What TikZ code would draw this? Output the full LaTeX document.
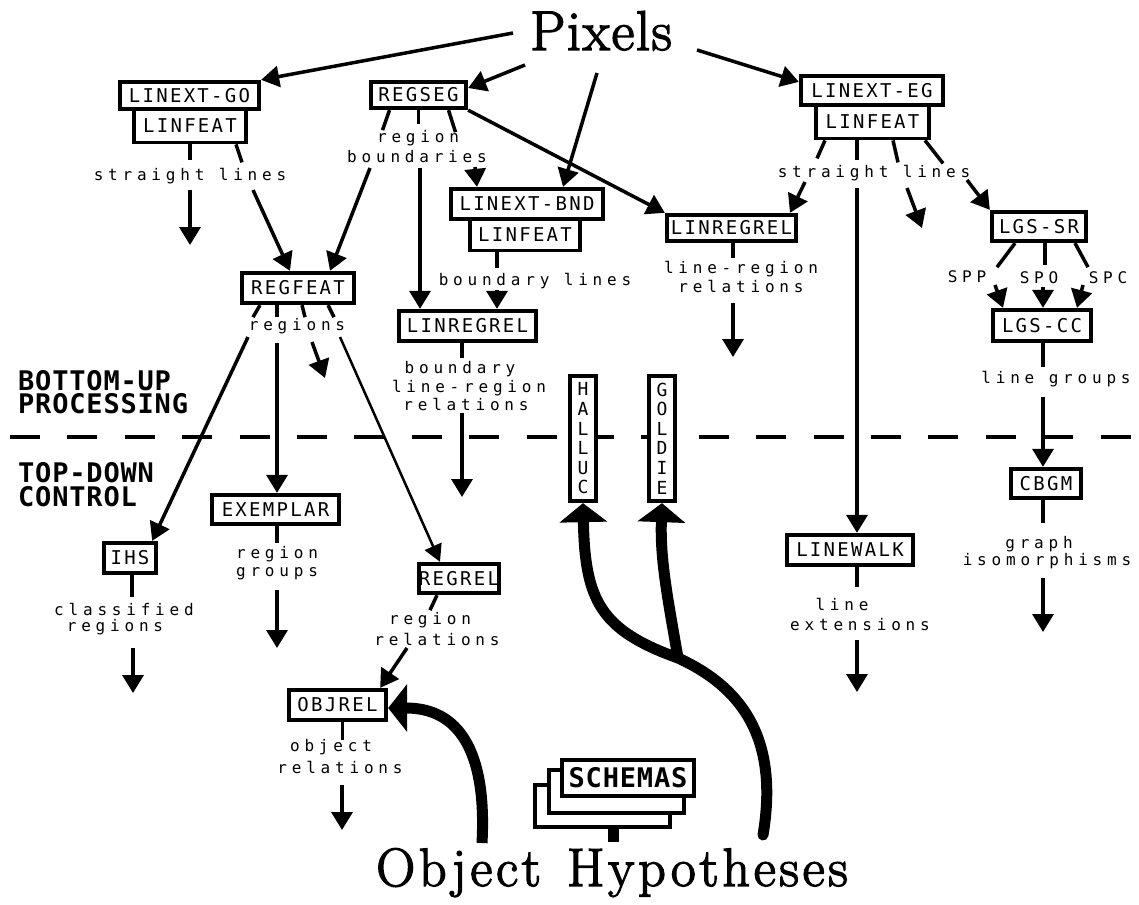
\documentclass[tikz,border=0pt]{standalone}
\usepackage{fontspec}
\usetikzlibrary{arrows.meta}
\newfontfamily\boxfont[LetterSpace=12]{DejaVu Sans Mono}
\newfontfamily\lblfont[LetterSpace=30]{DejaVu Sans Mono}
\newfontfamily\sidefont[LetterSpace=3,UprightFont={* Bold}]{DejaVu Sans Mono}
\newfontfamily\titlefont[FakeBold=2.5]{Latin Modern Roman}
\begin{document}
\begin{tikzpicture}[x=1pt,y=-1pt,
  box/.style={draw, line width=3.8pt, fill=white, inner sep=0pt,
    font=\boxfont\fontsize{19}{19}\selectfont, text height=13.9pt, text depth=0pt},
  vbox/.style={draw, line width=3.8pt, fill=white, inner sep=0pt, align=center,
    font=\boxfont\fontsize{18}{19.6}\selectfont},
  schema/.style={draw, line width=3.8pt, fill=white, inner sep=0pt},
  lbl/.style={inner sep=0pt, anchor=base, font=\lblfont\fontsize{16}{16}\selectfont},
  side/.style={inner sep=0pt, anchor=north west, align=left},
  title/.style={inner sep=0pt, anchor=base},
  stub/.style={line width=3.5pt},
  arr/.style={line width=3.5pt, -{Triangle[width=21pt,length=18pt]}},
  thinarr/.style={line width=2.5pt, -{Triangle[width=18pt,length=17pt]}},
  fat/.style={line width=11pt, -{Triangle[width=47pt,length=19pt]}},
  fatline/.style={line width=11pt, line cap=round},
  divider/.style={line width=4pt, dash pattern=on 30pt off 27.4pt}
]
\fill[white] (0,0) rectangle (1139,904);
\useasboundingbox (0,0) rectangle (1139,904);

% boundary between the two processing modes
\coordinate (dvL) at (10,437);
\coordinate (dvR) at (1139,437);
\draw[divider] (dvL) -- (dvR);

% side headings
\node[side, font=\sidefont\fontsize{27}{23}\selectfont] (bu) at (18,370.5) {BOTTOM-UP\\PROCESSING};
\node[side, font=\sidefont\fontsize{27}{24}\selectfont] (td) at (18,462.5) {TOP-DOWN\\CONTROL};

% end points
\node[title, font=\titlefont\fontsize{56}{56}\selectfont\addfontfeature{LetterSpace=3}] (pix) at (601,50) {Pixels};
\node[title, font=\titlefont\fontsize{54}{54}\selectfont\addfontfeature{LetterSpace=7}] (oh) at (612,886) {Object\hspace{6pt} Hypotheses};

% knowledge source boxes
\node[box, minimum width=139.5, minimum height=27.5] (gox) at (189.5,95.5) {LINEXT-GO};
\node[box, minimum width=112, minimum height=33] (gof) at (190,126) {LINFEAT};
\node[box, minimum width=95.5, minimum height=26.5] (reg) at (418.5,95) {REGSEG};
\node[box, minimum width=142.5, minimum height=29.5] (egx) at (872,90.5) {LINEXT-EG};
\node[box, minimum width=113.5, minimum height=33] (egf) at (872.5,122) {LINFEAT};
\node[box, minimum width=152.5, minimum height=30.5] (bndx) at (527,204) {LINEXT-BND};
\node[box, minimum width=110.5, minimum height=31] (bndf) at (525,235) {LINFEAT};
\node[box, minimum width=129.5, minimum height=26.5] (lrr) at (731.5,228) {LINREGREL};
\node[box, minimum width=94.5, minimum height=29.5] (sr) at (1039,226.5) {LGS-SR};
\node[box, minimum width=112.5, minimum height=30.5] (rf) at (298,288) {REGFEAT};
\node[box, minimum width=137.5, minimum height=30.5] (lrm) at (467.5,326) {LINREGREL};
\node[box, minimum width=98.5, minimum height=31.5] (cc) at (1042,325.5) {LGS-CC};
\node[vbox, minimum width=26.5, minimum height=125.5] (hal) at (583,438.5) {H\\A\\L\\L\\U\\C};
\node[vbox, minimum width=26.5, minimum height=125.5] (gol) at (662,438.5) {G\\O\\L\\D\\I\\E};
\node[box, minimum width=127.5, minimum height=29.5] (exm) at (275.5,509.5) {EXEMPLAR};
\node[box, minimum width=52.5, minimum height=30.5] (ihs) at (130,558) {IHS};
\node[box, minimum width=74.5, minimum height=29.5] (rr) at (459,578.5) {REGREL};
\node[box, minimum width=97.5, minimum height=30.5] (ob) at (337.5,705) {OBJREL};
\node[box, minimum width=126.5, minimum height=30.5] (lw) at (850,550) {LINEWALK};
\node[box, minimum width=70.5, minimum height=29.5] (cb) at (1046,483.5) {CBGM};

% stacked schema cards
\node[schema, minimum width=135.5, minimum height=42.5] (sch3) at (602.5,806) {};
\node[schema, minimum width=135.5, minimum height=43.5] (sch2) at (616.5,791.5) {};
\node[schema, minimum width=132.5, minimum height=36.5, font=\sidefont\fontsize{27}{27}\selectfont] (sch1) at (628,778) {SCHEMAS};
\draw[line width=11pt] ([xshift=10.5]sch3.south) -- ++(0,13);

% data labels
\node[lbl] (t1) at (190,180) {straight lines};
\node[lbl] (t2a) at (418,143) {region};
\node[lbl] (t2b) at (417,163) {boundaries};
\node[lbl] (t3) at (874,177) {straight lines};
\node[lbl] (t4) at (535,285) {boundary lines};
\node[lbl] (t5a) at (741,273) {line-region};
\node[lbl] (t5b) at (741,292) {relations};
\node[lbl] (t6) at (297,330) {regions};
\node[lbl] (t7a) at (460,373) {boundary};
\node[lbl] (t7b) at (469,392) {line-region};
\node[lbl] (t7c) at (466,410) {relations};
\node[lbl] (t8) at (1056,383) {line groups};
\node[lbl] (t9a) at (277,558) {region};
\node[lbl] (t9b) at (277,576) {groups};
\node[lbl] (t10a) at (124,615) {classified};
\node[lbl] (t10b) at (115,631) {regions};
\node[lbl] (t11a) at (430,624) {region};
\node[lbl] (t11b) at (437,645) {relations};
\node[lbl] (t12a) at (331,751) {object};
\node[lbl] (t12b) at (340,773) {relations};
\node[lbl] (t13a) at (842,610) {line};
\node[lbl] (t13b) at (860,630) {extensions};
\node[lbl] (t14a) at (1039,548) {graph};
\node[lbl] (t14b) at (1047,565) {isomorphisms};
\node[lbl] (spp) at (967,282) {SPP};
\node[lbl] (spo) at (1039,283) {SPO};
\node[lbl] (spc) at (1108,283) {SPC};

% free ends of connectors
\coordinate (p1) at (513,33);
\coordinate (p2) at (525,65);
\coordinate (p3) at (597,73);
\coordinate (p4) at (697,50);
\coordinate (g1) at (190,190);  \coordinate (g2) at (190,245);
\coordinate (g3) at (253,190);
\coordinate (r1) at (370,168);
\coordinate (r2) at (420,168);
\coordinate (r3) at (475,167);
\coordinate (b1) at (497,290);
\coordinate (l1) at (733,303);  \coordinate (l2) at (733,357);
\coordinate (e1) at (805,182);
\coordinate (e2) at (857,188);
\coordinate (e3) at (907,188);  \coordinate (e4) at (922,228);
\coordinate (e5) at (967,180);
\coordinate (s1) at (995,285);
\coordinate (s2) at (1043,287);
\coordinate (s3) at (1083,285);
\coordinate (c1) at (1043,397);
\coordinate (c2) at (1043,578); \coordinate (c3) at (1043,632);
\coordinate (w1) at (857,640);  \coordinate (w2) at (857,692);
\coordinate (f1) at (248,337);
\coordinate (f2) at (277,343);
\coordinate (f3) at (312,342);  \coordinate (f4) at (325,378);
\coordinate (f5) at (340,337);
\coordinate (m1) at (462,413);  \coordinate (m2) at (462,497);
\coordinate (x1) at (277,590);  \coordinate (x2) at (277,648);
\coordinate (i1) at (133,648);  \coordinate (i2) at (133,693);
\coordinate (q1) at (407,648);
\coordinate (o1) at (342,785);  \coordinate (o2) at (342,830);
\coordinate (h1) at (482,843);
\coordinate (h2) at (763,835);
\coordinate (hj) at (678,658);

% from the pixels
\draw[arr] (p1) -- (gox.north east);
\draw[arr] (p2) -- ([yshift=7]reg.east);
\draw[arr] (p3) -- ([xshift=36]bndx.north);
\draw[arr] (p4) -- ([yshift=-8]egx.north west);

% LINEXT-GO / LINFEAT
\draw[stub] (gof.south) -- ++(0,16);
\draw[stub] ([xshift=46]gof.south) -- ++(6,18);
\draw[arr] (g1) -- (g2);
\draw[arr] (g3) -- ([xshift=-8]rf.north);

% REGSEG
\draw[arr] (reg.south east) -- (lrr.north west);
\draw[stub] ([xshift=-29]reg.south) -- ++(-7,20);
\draw[stub] (reg.south) -- ++(0,14);
\draw[stub] ([xshift=30]reg.south) -- ++(7,22);
\draw[arr] (r1) -- ([xshift=32]rf.north);
\draw[arr] (r2) -- ([xshift=-47.5]lrm.north);
\draw[arr] (r3) -- ([xshift=-50]bndx.north);

% LINEXT-BND / LINFEAT
\draw[stub] ([xshift=-28]bndf.south) -- ++(0,16);
\draw[arr] (b1) -- ([xshift=29.5]lrm.north);

% LINREGREL (right)
\draw[stub] ([xshift=1.5]lrr.south) -- ++(0,15);
\draw[arr] (l1) -- (l2);

% LINEXT-EG / LINFEAT
\draw[stub] ([xshift=-47.5]egf.south) -- ++(-8,18);
\draw[stub] ([xshift=-15.5]egf.south) -- ++(0,20);
\draw[stub] ([xshift=20.5]egf.south) -- ++(5,22);
\draw[stub] ([xshift=52.5]egf.south) -- ++(18,23);
\draw[arr] (e1) -- ([xshift=58.5]lrr.north);
\draw[arr] (e2) -- ([xshift=7]lw.north);
\draw[arr] (e3) -- (e4);
\draw[arr] (e5) -- (sr.north west);

% LGS-SR
\draw[stub] ([xshift=-24]sr.south) -- ++(-18,24);
\draw[stub] ([xshift=6]sr.south) -- ++(0,22);
\draw[stub] ([xshift=36]sr.south) -- ++(13,24);
\draw[arr] (s1) -- ([xshift=-39]cc.north);
\draw[arr] (s2) -- ([xshift=1]cc.north);
\draw[arr] (s3) -- ([xshift=35]cc.north);

% LGS-CC and CBGM
\draw[stub] ([xshift=1]cc.south) -- ++(0,24);
\draw[arr] (c1) -- ([xshift=-3]cb.north);
\draw[stub] ([xshift=-3]cb.south) -- ++(0,23);
\draw[arr] (c2) -- (c3);

% LINEWALK
\draw[stub] ([xshift=7]lw.south) -- ++(0,20);
\draw[arr] (w1) -- (w2);

% REGFEAT
\draw[stub] ([xshift=-38]rf.south) -- ++(-7,12);
\draw[stub] ([xshift=-21]rf.south) -- ++(0,12);
\draw[stub] ([xshift=4]rf.south) -- ++(3,12);
\draw[stub] ([xshift=30]rf.south) -- ++(6,12);
\draw[arr] (f1) -- ([xshift=-6]ihs.north east);
\draw[arr] (f2) -- ([xshift=1.5]exm.north);
\draw[arr] (f3) -- (f4);
\draw[thinarr] (f5) -- ([xshift=-19]rr.north);

% LINREGREL (middle)
\draw[stub] ([xshift=-5.5]lrm.south) -- ++(0,15);
\draw[arr] (m1) -- (m2);

% EXEMPLAR, IHS
\draw[stub] ([xshift=1.5]exm.south) -- ++(0,17);
\draw[arr] (x1) -- (x2);
\draw[stub] ([xshift=2]ihs.south) -- ++(0,22);
\draw[arr] (i1) -- (i2);

% REGREL, OBJREL
\draw[stub] ([xshift=-22]rr.south) -- ++(-7,15);
\draw[arr] (q1) -- ([xshift=-8]ob.north east);
\draw[stub] ([xshift=5]ob.south) -- ++(0,18);
\draw[arr] (o1) -- (o2);

% hypotheses driving the top-down control
\draw[fat] (h1) .. controls (487,750) and (458,708) .. ([yshift=-3]ob.east);
\draw[fatline] (h2) .. controls (778,745) and (748,690) .. (hj);
\draw[fat] (hj) .. controls (600,630) and (585,600) .. (hal.south);
\draw[fat] (hj) .. controls (668,600) and (660,560) .. (gol.south);
\end{tikzpicture}
\end{document}
